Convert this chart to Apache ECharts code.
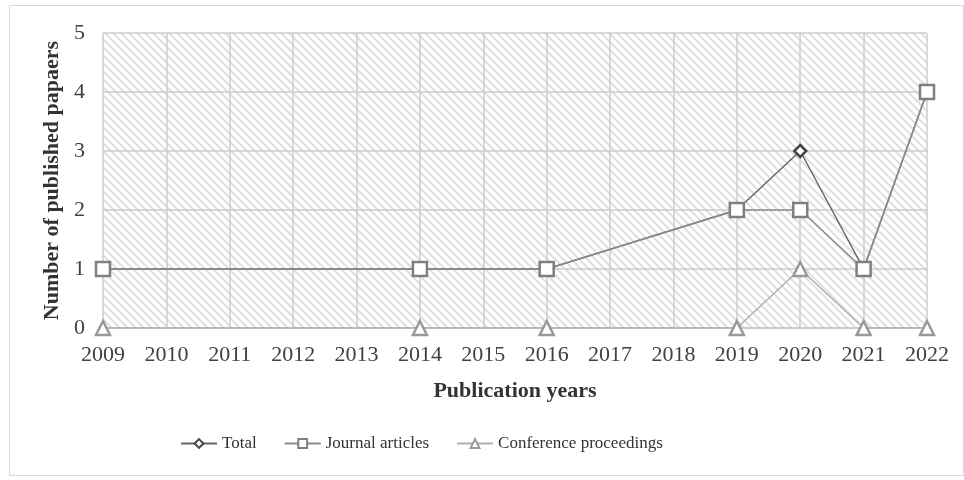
<!DOCTYPE html>
<html>
<head>
<meta charset="utf-8">
<script src="https://cdn.jsdelivr.net/npm/echarts@6/dist/echarts.min.js"></script>
<style>
  html, body { margin: 0; padding: 0; background: #fff; }
  #frame { position: absolute; left: 9px; top: 5px; width: 953px; height: 469px; border: 1px solid #d9d9d9; }
  #chart { width: 964px; height: 480px; }
</style>
</head>
<body>
<div id="frame"></div>
<div id="chart"></div>
<script>
// years on the axis
var years = ['2009','2010','2011','2012','2013','2014','2015','2016','2017','2018','2019','2020','2021','2022'];
// paper counts (null = no data for that year)
var totalData      = [1, null, null, null, null, 1, null, 1, null, null, 2, 3, 1, 4];
var journalData    = [1, null, null, null, null, 1, null, 1, null, null, 2, 2, 1, 4];
var conferenceData = [0, null, null, null, null, 0, null, 0, null, null, 0, 1, 0, 0];

// hatch pattern for plot background
var hatch = document.createElement('canvas');
hatch.width = 8; hatch.height = 8;
var ctx = hatch.getContext('2d');
ctx.fillStyle = '#ffffff';
ctx.fillRect(0, 0, 8, 8);
ctx.strokeStyle = '#e0e0e0';
ctx.lineWidth = 2;
ctx.beginPath();
ctx.moveTo(-2, -2); ctx.lineTo(10, 10);
ctx.moveTo(-10, -2); ctx.lineTo(2, 10);
ctx.moveTo(6, -2); ctx.lineTo(18, 10);
ctx.stroke();

var font = 'Liberation Serif';
var chart = echarts.init(document.getElementById('chart'));

var option = {
    animation: false,
    textStyle: { fontFamily: font },
    grid: {
        left: 103, right: 37, top: 33, bottom: 152,
        show: true,
        borderWidth: 0,
        backgroundColor: { image: hatch, repeat: 'repeat' }
    },
    legend: {
        left: 175,
        bottom: 23,
        itemGap: 27,
        itemWidth: 36,
        itemHeight: 11,
        textStyle: { fontFamily: font, fontSize: 17, color: '#333' },
        data: ['Total', 'Journal articles', 'Conference proceedings']
    },
    xAxis: {
        type: 'category',
        data: years,
        boundaryGap: false,
        name: 'Publication years',
        nameLocation: 'middle',
        nameGap: 52,
        nameTextStyle: { fontFamily: font, fontSize: 22, fontWeight: 'bold', color: '#333' },
        axisLine: { lineStyle: { color: '#c8c8c8', width: 1.5 } },
        axisTick: { show: false },
        axisLabel: { fontFamily: font, fontSize: 22, color: '#404040', margin: 16 },
        splitLine: { show: true, lineStyle: { color: '#cccccc', width: 1.5 } }
    },
    yAxis: {
        type: 'value',
        min: 0, max: 5, interval: 1,
        name: 'Number of published papaers',
        nameLocation: 'middle',
        nameGap: 40,
        nameTextStyle: { fontFamily: font, fontSize: 22, fontWeight: 'bold', color: '#333' },
        axisLine: { show: false },
        axisTick: { show: false },
        axisLabel: { fontFamily: font, fontSize: 22, color: '#404040', margin: 18 },
        splitLine: { show: true, lineStyle: { color: '#cccccc', width: 1.5 } }
    },
    series: [
        {
            name: 'Total', type: 'line', data: totalData, connectNulls: true,
            symbol: 'diamond', symbolSize: 12,
            lineStyle: { color: '#666666', width: 1.5 },
            itemStyle: { color: '#ffffff', borderColor: '#444444', borderWidth: 2.5 }
        },
        {
            name: 'Journal articles', type: 'line', data: journalData, connectNulls: true,
            symbol: 'rect', symbolSize: 14,
            lineStyle: { color: '#8c8c8c', width: 1.5 },
            itemStyle: { color: '#ffffff', borderColor: '#7f7f7f', borderWidth: 2.5 }
        },
        {
            name: 'Conference proceedings', type: 'line', data: conferenceData, connectNulls: true,
            symbol: 'triangle', symbolSize: 14,
            lineStyle: { color: '#b0b0b0', width: 1.5 },
            itemStyle: { color: '#ffffff', borderColor: '#999999', borderWidth: 2.5 }
        }
    ]
};
chart.setOption(option);
</script>
</body>
</html>
